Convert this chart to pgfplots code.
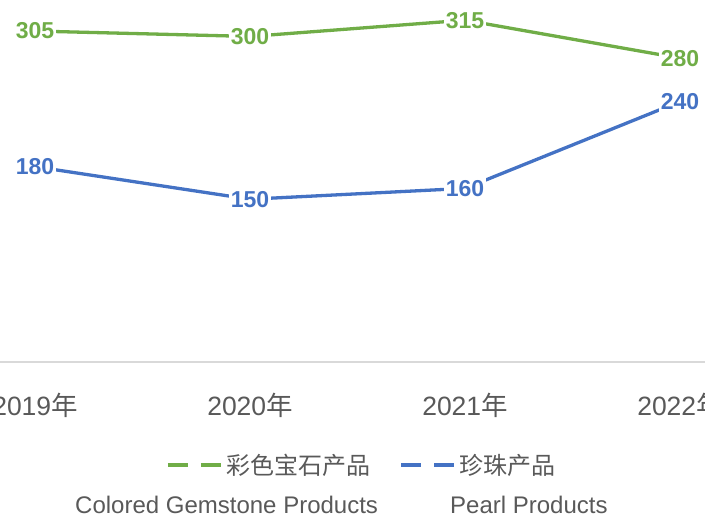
\documentclass[border=0pt]{standalone}
\usepackage{pgfplots}
\pgfplotsset{compat=1.18}
\usepackage{fontspec}
\setmainfont{Liberation Sans}
\newfontfamily\cjk{Noto Sans CJK SC}
\definecolor{cgreen}{HTML}{70AD47}
\definecolor{cblue}{HTML}{4472C4}
\definecolor{tgray}{HTML}{595959}
\definecolor{agray}{HTML}{D9D9D9}
\begin{document}
\begin{tikzpicture}
\useasboundingbox (0,0) rectangle (705pt,515pt);
\clip (0,0) rectangle (705pt,515pt);
\begin{axis}[
  at={(0pt,153pt)}, anchor=south west,
  scale only axis, width=705pt, height=362pt,
  xmin=-0.16279, xmax=3.11628, ymin=0, ymax=333.6,
  clip=false,
  hide y axis,
  axis x line=bottom,
  x axis line style={-, draw=agray, line width=1.5pt},
  xtick={0,1,2,3},
  xticklabels={2019{\cjk 年},2020{\cjk 年},2021{\cjk 年},2022{\cjk 年}},
  major tick length=0pt,
  xticklabel style={anchor=center, yshift=-43pt, text=tgray, font=\fontsize{26.5}{30}\selectfont},
  /pgf/number format/assume math mode=true,
  nodes near coords,
  every node near coord/.append style={anchor=center, fill=white, inner sep=2pt, font=\fontsize{23}{26}\selectfont\bfseries},
  legend columns=2,
  legend style={at={(rel axis cs:0.2355,-0.2845)}, anchor=west, draw=none, fill=none, inner sep=0pt,
    font=\fontsize{24}{28}\selectfont, text=tgray,
    /tikz/every odd column/.append style={column sep=3pt},
    /tikz/every even column/.append style={column sep=29pt},
    nodes={inner sep=0pt}},
  legend image code/.code={\draw[line width=3.3pt, dash pattern=on 20pt off 13pt] (0pt,0pt) -- (54pt,0pt);},
]
\addplot[cgreen, line width=3.3pt, line join=round, every node near coord/.append style={text=cgreen}]
  coordinates {(0,305) (1,300) (2,315) (3,280)};
\addlegendentry{{\cjk 彩色宝石产品}}
\addplot[cblue, line width=3.3pt, line join=round, every node near coord/.append style={text=cblue}]
  coordinates {(0,180) (1,150) (2,160) (3,240)};
\addlegendentry{{\cjk 珍珠产品}}
\end{axis}
\node[anchor=base west, text=tgray, font=\fontsize{24}{28}\selectfont, inner sep=0pt] at (75pt,2pt) {Colored Gemstone Products};
\node[anchor=base west, text=tgray, font=\fontsize{24}{28}\selectfont, inner sep=0pt] at (450pt,2pt) {Pearl Products};
\end{tikzpicture}
\end{document}
